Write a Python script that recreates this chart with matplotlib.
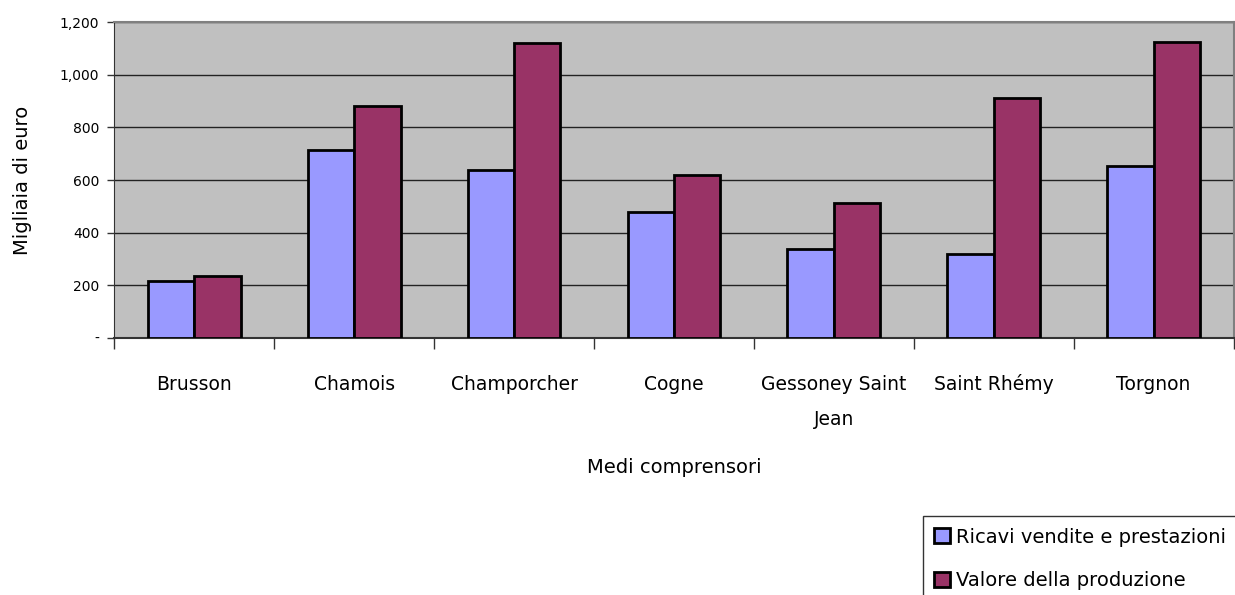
import matplotlib
matplotlib.use("Agg")
import matplotlib.pyplot as plt
import matplotlib.transforms as mtransforms
import numpy as np

categories = ["Brusson", "Chamois", "Champorcher", "Cogne",
              "Gessoney Saint\nJean", "Saint Rhémy", "Torgnon"]
ricavi = [215, 714, 638, 478, 338, 319, 655]
valore = [234, 880, 1120, 620, 514, 911, 1124]
series_names = ["Ricavi vendite e prestazioni", "Valore della produzione"]
y_ticks = [0, 200, 400, 600, 800, 1000, 1200]
y_tick_labels = ["-", "200", "400", "600", "800", "1,000", "1,200"]

plt.rcParams["font.family"] = ["DejaVu Sans"]

fig = plt.figure(figsize=(12.35, 5.95), dpi=100)
ax = fig.add_axes([0.0926, 0.4324, 0.9062, 0.5301])
ax.set_facecolor("#C0C0C0")

x = np.arange(len(categories))
w = 0.29
ax.bar(x - w / 2, ricavi, width=w, color="#9999FF", edgecolor="black",
       linewidth=2, label=series_names[0], zorder=3)
ax.bar(x + w / 2, valore, width=w, color="#993366", edgecolor="black",
       linewidth=2, label=series_names[1], zorder=3)

ax.set_xlim(-0.5, len(categories) - 0.5)
ax.set_ylim(0, 1200)
ax.set_yticks(y_ticks)
ax.set_yticklabels(y_tick_labels, fontsize=10)
ax.yaxis.grid(True, color="#222222", linewidth=1, zorder=1)
ax.set_axisbelow(True)

# category separators as outward ticks; names drawn line by line on a
# common baseline so accented letters do not shift a label
ax.set_xticks(np.arange(-0.5, len(categories)))
ax.set_xticklabels([])
ax.tick_params(axis="x", length=8, width=1, color="#333333", direction="out")
ax.tick_params(axis="y", length=5, width=1, color="#333333", pad=6)

base = ax.get_xaxis_transform()
line_offsets = [37.4, 62.6]  # points below the axis for each text line
for i, name in enumerate(categories):
    for j, part in enumerate(name.split("\n")):
        tr = mtransforms.offset_copy(base, fig=fig, y=-line_offsets[j],
                                     units="points")
        ax.text(x[i], 0, part, transform=tr, ha="center", va="baseline",
                fontsize=13.5)

for side in ("top", "right"):
    ax.spines[side].set_color("#808080")
    ax.spines[side].set_linewidth(1.5)
ax.spines["left"].set_color("#333333")
ax.spines["bottom"].set_color("#333333")
ax.spines["bottom"].set_linewidth(1.5)

ax.set_ylabel("Migliaia di euro", fontsize=14, labelpad=20)
ax.set_xlabel("Medi comprensori", fontsize=14, va="center")
ax.xaxis.set_label_coords(0.5, -0.413)

leg = fig.legend(loc="upper left", bbox_to_anchor=(0.747, 0.133),
                 borderaxespad=0, fontsize=14, frameon=True, fancybox=False,
                 edgecolor="black", handlelength=0.8, handleheight=0.8,
                 handletextpad=0.3, labelspacing=1.25, borderpad=0.6)
leg.get_frame().set_linewidth(1)

fig.savefig("out.png", dpi=100)
